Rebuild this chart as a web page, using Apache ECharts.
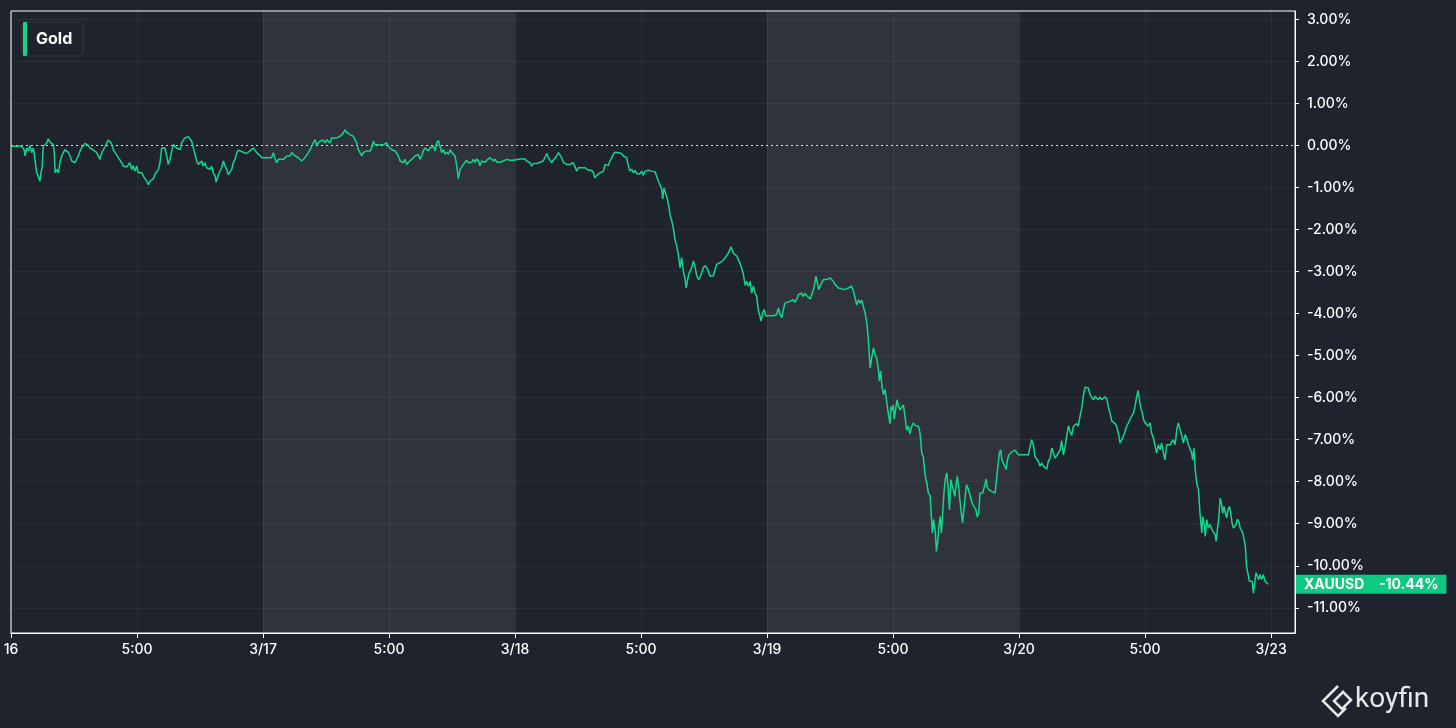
<!DOCTYPE html>
<html><head><meta charset="utf-8">
<script src="https://cdn.jsdelivr.net/npm/echarts@6/dist/echarts.min.js"></script>
<style>html,body{margin:0;padding:0;background:#1f232d;}#c{width:1456px;height:728px;}</style>
</head><body><div id="c"></div>
<script>
const seriesName = 'Gold';
const tickerName = 'XAUUSD';
const xTickLabels = ['16','5:00','3/17','5:00','3/18','5:00','3/19','5:00','3/20','5:00','3/23'];
const yTickValues = [3,2,1,0,-1,-2,-3,-4,-5,-6,-7,-8,-9,-10,-11];
const sessionBands = [[1,2],[3,4]];
// [session day index, % change]
const goldA = [[0.003,-0.02],[0.042,-0.02],[0.052,-0.10],[0.056,-0.25],[0.062,-0.06],[0.069,-0.13],[0.075,0.00],[0.082,-0.17],[0.089,-0.06],[0.095,-0.33],[0.102,-0.65],[0.108,-0.73],[0.115,-0.85],[0.119,-0.65],[0.124,-0.49],[0.128,-0.02],[0.135,-0.02],[0.142,0.06],[0.148,0.16],[0.155,0.08],[0.161,0.10],[0.168,0.02],[0.172,-0.17],[0.175,-0.65],[0.181,-0.57],[0.188,-0.65],[0.194,-0.41],[0.201,-0.25],[0.208,-0.17],[0.214,-0.10],[0.221,-0.13],[0.228,-0.17],[0.234,-0.25],[0.241,-0.37],[0.247,-0.33],[0.254,-0.41],[0.261,-0.37],[0.267,-0.25],[0.274,-0.13],[0.280,-0.06],[0.287,-0.02],[0.294,0.05],[0.300,0.05],[0.307,0.00],[0.313,-0.06],[0.327,-0.11],[0.340,-0.17],[0.353,-0.33],[0.360,-0.17],[0.373,-0.03],[0.380,0.06],[0.386,0.13],[0.393,0.10],[0.399,0.05],[0.406,-0.10],[0.413,-0.17],[0.419,-0.17],[0.426,-0.29],[0.433,-0.33],[0.439,-0.41],[0.446,-0.49],[0.452,-0.45],[0.459,-0.51],[0.466,-0.49],[0.472,-0.41],[0.479,-0.57],[0.485,-0.48],[0.492,-0.61],[0.499,-0.49],[0.505,-0.65],[0.512,-0.69],[0.519,-0.65],[0.525,-0.73],[0.532,-0.77],[0.538,-0.85],[0.545,-0.93],[0.552,-0.85],[0.558,-0.81],[0.565,-0.79],[0.571,-0.69],[0.578,-0.65],[0.585,-0.57],[0.591,-0.41],[0.598,-0.06],[0.605,-0.03],[0.611,-0.06],[0.618,-0.25],[0.624,-0.45],[0.631,-0.33],[0.638,-0.13],[0.644,0.02],[0.651,0.06],[0.657,-0.06],[0.664,-0.02],[0.671,-0.10],[0.677,0.06],[0.684,0.10],[0.690,0.18],[0.697,0.16],[0.704,0.21],[0.710,0.22],[0.717,0.10],[0.724,-0.06],[0.730,-0.21],[0.737,-0.37],[0.743,-0.45],[0.750,-0.41],[0.757,-0.37],[0.763,-0.49],[0.770,-0.41],[0.776,-0.53],[0.783,-0.49],[0.790,-0.57],[0.796,-0.49],[0.803,-0.65],[0.810,-0.73],[0.814,-0.87],[0.823,-0.69],[0.829,-0.65],[0.836,-0.53],[0.843,-0.37],[0.849,-0.49],[0.856,-0.57],[0.862,-0.69],[0.869,-0.65],[0.876,-0.57],[0.882,-0.41],[0.889,-0.33],[0.896,-0.17],[0.902,-0.11],[0.909,-0.13],[0.922,-0.16],[0.935,-0.19],[0.948,-0.13],[0.955,-0.17],[0.962,-0.06],[0.968,-0.11],[0.975,-0.17],[0.981,-0.21],[0.988,-0.24],[0.995,-0.29],[1.015,-0.29],[1.034,-0.29],[1.041,-0.17],[1.048,-0.32],[1.054,-0.41],[1.061,-0.33],[1.067,-0.37],[1.081,-0.33],[1.087,-0.29],[1.094,-0.25],[1.101,-0.21],[1.107,-0.25],[1.114,-0.17],[1.120,-0.13],[1.127,-0.25],[1.134,-0.25],[1.140,-0.29],[1.147,-0.33],[1.153,-0.37],[1.160,-0.40],[1.167,-0.29],[1.173,-0.25],[1.180,-0.17],[1.187,-0.10],[1.193,-0.02],[1.200,0.06],[1.206,0.14],[1.213,0.02],[1.220,0.06],[1.226,0.10],[1.233,0.06],[1.239,0.13],[1.246,0.06],[1.253,0.14],[1.259,0.18],[1.266,0.06],[1.272,0.18],[1.279,0.16],[1.292,0.18],[1.306,0.22],[1.319,0.30],[1.325,0.37],[1.332,0.32],[1.339,0.32],[1.345,0.26],[1.352,0.30],[1.358,0.22],[1.365,0.18],[1.372,0.06],[1.378,-0.10],[1.385,-0.17],[1.392,-0.25],[1.398,-0.17],[1.405,-0.21],[1.411,-0.13],[1.425,-0.13],[1.431,-0.06],[1.438,0.10],[1.444,0.02],[1.451,0.06],[1.458,0.02],[1.464,0.06],[1.478,0.02],[1.491,0.06],[1.497,-0.02],[1.504,-0.03],[1.511,-0.10],[1.517,-0.13],[1.524,-0.13],[1.530,-0.17],[1.537,-0.25],[1.544,-0.37],[1.550,-0.33],[1.557,-0.41],[1.563,-0.33],[1.570,-0.45],[1.577,-0.40],[1.583,-0.41],[1.590,-0.33],[1.597,-0.29],[1.603,-0.25],[1.610,-0.29],[1.616,-0.21],[1.623,-0.33],[1.630,-0.25],[1.636,-0.13],[1.643,-0.06],[1.649,-0.10],[1.656,-0.13],[1.663,-0.06],[1.669,-0.10],[1.676,-0.02],[1.683,-0.13],[1.689,0.06],[1.696,0.12]];
const goldB = [[1.702,-0.02],[1.709,-0.17],[1.716,-0.10],[1.722,-0.21],[1.729,-0.16],[1.736,-0.21],[1.743,-0.10],[1.749,-0.17],[1.756,-0.21],[1.762,-0.25],[1.769,-0.49],[1.775,-0.79],[1.782,-0.57],[1.789,-0.53],[1.795,-0.45],[1.802,-0.41],[1.808,-0.35],[1.815,-0.41],[1.822,-0.37],[1.828,-0.40],[1.835,-0.33],[1.841,-0.40],[1.848,-0.32],[1.855,-0.37],[1.861,-0.48],[1.868,-0.37],[1.874,-0.35],[1.881,-0.40],[1.888,-0.35],[1.894,-0.32],[1.901,-0.29],[1.907,-0.33],[1.914,-0.37],[1.921,-0.32],[1.927,-0.40],[1.934,-0.43],[1.940,-0.40],[1.947,-0.43],[1.954,-0.37],[1.960,-0.40],[1.967,-0.33],[1.974,-0.37],[1.980,-0.35],[1.987,-0.37],[1.993,-0.35],[2.000,-0.32],[2.020,-0.32],[2.040,-0.32],[2.046,-0.37],[2.053,-0.41],[2.060,-0.41],[2.066,-0.49],[2.073,-0.43],[2.079,-0.41],[2.086,-0.43],[2.093,-0.40],[2.099,-0.40],[2.106,-0.37],[2.112,-0.37],[2.119,-0.33],[2.126,-0.19],[2.132,-0.29],[2.139,-0.35],[2.145,-0.41],[2.152,-0.35],[2.159,-0.33],[2.165,-0.25],[2.172,-0.17],[2.179,-0.21],[2.185,-0.29],[2.192,-0.40],[2.198,-0.43],[2.205,-0.45],[2.212,-0.43],[2.218,-0.45],[2.225,-0.43],[2.231,-0.41],[2.238,-0.37],[2.245,-0.61],[2.251,-0.53],[2.258,-0.49],[2.265,-0.53],[2.271,-0.49],[2.278,-0.53],[2.284,-0.56],[2.291,-0.59],[2.298,-0.57],[2.304,-0.59],[2.311,-0.65],[2.317,-0.77],[2.324,-0.71],[2.331,-0.73],[2.337,-0.65],[2.344,-0.67],[2.351,-0.61],[2.357,-0.45],[2.364,-0.41],[2.370,-0.48],[2.377,-0.37],[2.384,-0.29],[2.390,-0.21],[2.397,-0.16],[2.403,-0.19],[2.410,-0.17],[2.417,-0.21],[2.423,-0.19],[2.430,-0.25],[2.437,-0.29],[2.443,-0.29],[2.450,-0.49],[2.456,-0.61],[2.463,-0.56],[2.470,-0.65],[2.476,-0.59],[2.483,-0.67],[2.489,-0.63],[2.496,-0.67],[2.503,-0.61],[2.509,-0.71],[2.516,-0.61],[2.522,-0.57],[2.529,-0.59],[2.536,-0.57],[2.542,-0.61],[2.549,-0.63],[2.556,-0.63],[2.562,-0.73],[2.569,-0.85],[2.575,-0.93],[2.582,-1.05],[2.586,-1.27],[2.591,-1.01],[2.595,-0.97],[2.599,-1.17],[2.605,-1.29],[2.610,-1.44],[2.615,-1.64],[2.622,-1.79],[2.629,-2.00],[2.635,-2.24],[2.642,-2.40],[2.648,-2.59],[2.655,-2.91],[2.661,-2.67],[2.668,-2.99],[2.675,-3.19],[2.679,-3.39],[2.684,-3.23],[2.689,-3.06],[2.695,-3.03],[2.701,-2.91],[2.708,-2.75],[2.714,-2.87],[2.721,-3.10],[2.728,-3.19],[2.734,-3.13],[2.741,-3.03],[2.747,-2.91],[2.754,-2.86],[2.761,-2.91],[2.767,-2.99],[2.774,-3.11],[2.780,-3.15],[2.787,-3.10],[2.794,-2.95],[2.800,-2.83],[2.807,-2.87],[2.813,-2.79],[2.820,-2.78],[2.827,-2.73],[2.833,-2.67],[2.840,-2.63],[2.847,-2.56],[2.853,-2.52],[2.857,-2.41],[2.861,-2.48],[2.866,-2.56],[2.873,-2.60],[2.880,-2.63],[2.886,-2.71],[2.893,-2.81],[2.899,-2.91],[2.906,-3.06],[2.913,-3.33],[2.919,-3.23],[2.926,-3.35],[2.933,-3.23],[2.939,-3.51],[2.946,-3.35],[2.952,-3.51],[2.959,-3.59],[2.966,-3.94],[2.972,-4.06],[2.976,-4.18],[2.983,-3.98],[2.989,-3.90],[2.994,-4.05],[3.000,-4.05],[3.026,-4.05],[3.038,-4.02],[3.045,-3.87],[3.052,-4.02],[3.058,-4.10],[3.065,-3.90],[3.071,-3.75],[3.078,-3.73],[3.091,-3.71],[3.104,-3.67],[3.111,-3.73],[3.118,-3.65],[3.124,-3.55],[3.131,-3.59],[3.138,-3.51],[3.144,-3.59],[3.151,-3.52],[3.157,-3.57],[3.164,-3.55],[3.171,-3.65],[3.177,-3.63],[3.184,-3.43],[3.190,-3.27],[3.194,-3.11],[3.200,-3.27],[3.205,-3.43],[3.210,-3.35],[3.217,-3.27],[3.224,-3.19],[3.230,-3.23],[3.237,-3.19],[3.243,-3.17],[3.250,-3.15],[3.257,-3.11],[3.263,-3.23],[3.270,-3.31],[3.276,-3.35],[3.283,-3.39],[3.290,-3.35],[3.296,-3.41],[3.303,-3.41],[3.310,-3.43],[3.316,-3.43],[3.323,-3.39],[3.329,-3.43],[3.336,-3.35],[3.343,-3.47],[3.349,-3.51],[3.356,-3.79],[3.363,-3.67]];
const goldC = [[3.369,-3.75],[3.376,-3.68],[3.382,-3.83],[3.389,-3.98],[3.396,-4.22],[3.402,-4.62],[3.409,-5.29],[3.415,-5.06],[3.422,-4.82],[3.429,-4.98],[3.435,-5.06],[3.442,-5.33],[3.446,-5.61],[3.451,-5.37],[3.456,-5.73],[3.462,-5.93],[3.468,-5.81],[3.475,-6.09],[3.481,-6.37],[3.488,-6.62],[3.492,-6.21],[3.498,-6.30],[3.501,-6.17],[3.505,-6.51],[3.511,-6.25],[3.516,-6.05],[3.521,-6.19],[3.528,-6.29],[3.534,-6.25],[3.541,-6.17],[3.548,-6.47],[3.554,-6.78],[3.561,-6.68],[3.567,-6.86],[3.574,-6.68],[3.581,-6.60],[3.587,-6.66],[3.594,-6.67],[3.601,-6.68],[3.607,-6.84],[3.614,-7.32],[3.620,-7.40],[3.627,-7.83],[3.634,-8.03],[3.640,-8.27],[3.647,-8.33],[3.651,-8.75],[3.656,-9.22],[3.661,-8.90],[3.664,-8.94],[3.668,-9.22],[3.672,-9.66],[3.678,-9.38],[3.682,-9.06],[3.687,-8.83],[3.692,-9.22],[3.697,-9.22],[3.702,-8.27],[3.707,-7.95],[3.713,-7.79],[3.718,-8.11],[3.724,-8.67],[3.729,-7.95],[3.734,-7.99],[3.739,-8.19],[3.745,-8.35],[3.750,-8.07],[3.755,-7.87],[3.761,-8.15],[3.765,-8.43],[3.771,-8.75],[3.776,-8.98],[3.781,-8.67],[3.787,-8.31],[3.792,-8.07],[3.797,-8.15],[3.803,-8.27],[3.808,-8.23],[3.813,-8.49],[3.818,-8.55],[3.824,-8.59],[3.829,-8.67],[3.834,-8.84],[3.840,-8.75],[3.845,-8.27],[3.850,-8.31],[3.856,-8.27],[3.861,-8.23],[3.866,-8.03],[3.869,-7.94],[3.874,-8.13],[3.880,-8.19],[3.885,-8.21],[3.891,-8.23],[3.898,-8.25],[3.905,-8.27],[3.910,-8.27],[3.916,-7.64],[3.922,-7.32],[3.927,-7.24],[3.932,-7.48],[3.938,-7.56],[3.943,-7.52],[3.949,-7.71],[3.954,-7.48],[3.959,-7.37],[3.964,-7.33],[3.971,-7.29],[3.978,-7.32],[3.984,-7.25],[3.991,-7.28],[3.997,-7.36],[4.017,-7.36],[4.037,-7.36],[4.044,-7.16],[4.050,-7.00],[4.057,-7.12],[4.063,-7.40],[4.070,-7.40],[4.077,-7.52],[4.083,-7.63],[4.090,-7.56],[4.097,-7.63],[4.103,-7.60],[4.110,-7.70],[4.116,-7.52],[4.123,-7.44],[4.130,-7.20],[4.136,-7.16],[4.143,-7.44],[4.150,-7.40],[4.156,-7.32],[4.163,-7.24],[4.169,-7.02],[4.176,-7.36],[4.183,-7.16],[4.189,-6.92],[4.196,-6.67],[4.202,-6.80],[4.209,-6.90],[4.216,-6.68],[4.222,-6.72],[4.229,-6.62],[4.235,-6.68],[4.242,-6.44],[4.249,-6.24],[4.255,-5.97],[4.262,-5.75],[4.268,-5.73],[4.275,-5.77],[4.282,-5.93],[4.288,-5.93],[4.295,-6.05],[4.302,-5.97],[4.308,-5.93],[4.315,-6.05],[4.321,-5.98],[4.328,-6.05],[4.335,-6.09],[4.341,-5.98],[4.348,-6.03],[4.354,-6.21],[4.361,-6.37],[4.368,-6.56],[4.374,-6.60],[4.381,-6.62],[4.387,-6.68],[4.394,-6.84],[4.401,-7.08],[4.407,-7.04],[4.414,-6.92],[4.421,-6.80],[4.427,-6.68],[4.434,-6.60],[4.440,-6.52],[4.447,-6.44],[4.454,-6.37],[4.460,-6.21],[4.467,-5.97],[4.472,-5.83],[4.478,-6.05],[4.483,-6.25],[4.488,-6.33],[4.494,-6.52],[4.500,-6.60],[4.507,-6.56],[4.513,-6.68],[4.520,-6.60],[4.526,-6.84],[4.533,-6.96],[4.540,-7.16],[4.546,-7.32],[4.553,-7.12],[4.560,-7.24],[4.566,-7.08],[4.573,-7.32],[4.579,-7.48],[4.586,-7.12],[4.593,-7.08],[4.599,-7.12],[4.606,-7.08],[4.612,-7.00],[4.619,-7.12],[4.626,-6.76],[4.632,-6.60],[4.639,-6.76],[4.646,-6.92],[4.652,-7.08],[4.659,-6.88],[4.665,-6.96],[4.672,-7.12],[4.679,-7.16],[4.685,-7.32],[4.689,-7.48],[4.694,-7.20],[4.699,-7.71],[4.705,-8.03],[4.712,-8.19],[4.718,-8.75],[4.725,-9.22],[4.729,-8.83],[4.734,-8.98],[4.739,-9.30],[4.745,-8.90],[4.751,-9.10],[4.758,-9.02],[4.765,-9.14],[4.771,-9.10],[4.778,-9.26],[4.782,-9.42],[4.787,-9.14],[4.792,-8.90],[4.798,-8.39],[4.803,-8.51],[4.808,-8.75],[4.813,-8.59],[4.819,-8.75],[4.824,-8.86],[4.829,-8.67],[4.835,-8.59],[4.840,-8.75],[4.845,-8.98],[4.851,-9.10],[4.856,-9.06],[4.861,-9.02],[4.866,-8.89],[4.872,-8.94],[4.877,-9.10],[4.882,-9.06],[4.888,-9.22],[4.893,-9.38],[4.898,-9.54],[4.903,-10.02],[4.909,-10.21],[4.914,-10.37],[4.919,-10.41],[4.925,-10.37],[4.930,-10.65],[4.935,-10.41],[4.940,-10.17],[4.946,-10.13],[4.951,-10.33],[4.956,-10.21],[4.962,-10.33],[4.969,-10.21],[4.976,-10.37],[4.981,-10.33],[4.988,-10.44]];

const gold = goldA.concat(goldB, goldC);
const lastValue = gold[gold.length - 1][1];
const GREEN = '#14d68b';
const FONT = 'Inter, "Noto Sans", sans-serif';

const chart = echarts.init(document.getElementById('c'), null, {renderer: 'canvas'});

const gridLines = yTickValues.filter(v => v !== 0).map(v => ({
  yAxis: v, lineStyle: {color: 'rgba(255,255,255,0.055)', type: 'solid', width: 1}, label: {show: false}
}));

chart.setOption({
  backgroundColor: '#1f232d',
  animation: false,
  textStyle: {fontFamily: FONT},
  grid: {left: 11, right: 161, top: 11, bottom: 95, show: true, borderColor: '#ffffff', borderWidth: 1, backgroundColor: 'transparent'},
  legend: {
    left: 22, top: 22, selectedMode: false,
    data: [{name: seriesName, icon: 'roundRect'}],
    itemWidth: 4, itemHeight: 34,
    backgroundColor: '#1f232d', borderColor: '#363a45', borderWidth: 1, borderRadius: 5,
    padding: [0, 11, 0, 1],
    textStyle: {color: '#ffffff', fontSize: 16, fontWeight: 'bold', fontFamily: FONT, padding: [0, 0, 0, 4]}
  },
  xAxis: {
    type: 'value', min: 0, max: 5.095, interval: 0.5,
    axisLine: {show: true, onZero: false, lineStyle: {color: '#ffffff', width: 1}},
    axisTick: {show: true, length: 5, lineStyle: {color: '#ffffff'}},
    axisLabel: {color: '#ffffff', fontSize: 14, fontWeight: 500, fontFamily: FONT, margin: 10, showMinLabel: true, showMaxLabel: false,
      formatter: v => xTickLabels[Math.round(v / 0.5)] || ''},
    splitLine: {show: true, lineStyle: {color: 'rgba(255,255,255,0.055)'}}
  },
  yAxis: {
    type: 'value', position: 'right', min: -11.6, max: 3.2,
    axisLine: {show: true, onZero: false, lineStyle: {color: '#ffffff', width: 1}},
    axisTick: {show: true, length: 4, customValues: yTickValues, lineStyle: {color: '#ffffff'}},
    axisLabel: {customValues: yTickValues, color: '#ffffff', fontSize: 14, fontWeight: 500, fontFamily: FONT, margin: 12,
      formatter: v => v.toFixed(2) + '%'},
    splitLine: {show: false}
  },
  series: [{
    type: 'line', name: seriesName, data: gold,
    showSymbol: false, symbol: 'none', clip: false,
    lineStyle: {color: GREEN, width: 1.5},
    itemStyle: {color: GREEN},
    z: 5,
    markArea: {
      silent: true,
      itemStyle: {color: 'rgba(255,255,255,0.075)'},
      data: sessionBands.map(b => [{xAxis: b[0]}, {xAxis: b[1]}])
    },
    markLine: {
      silent: true, symbol: 'none', animation: false,
      data: gridLines.concat([
        {yAxis: 0, lineStyle: {color: 'rgba(255,255,255,0.85)', type: [2, 3], width: 1}, label: {show: false}},
        {yAxis: lastValue, lineStyle: {color: 'rgba(0,0,0,0)', width: 0}, label: {
          show: true, position: 'end', distance: 1,
          formatter: '{n|' + tickerName + '}{v|' + lastValue.toFixed(2) + '%}',
          backgroundColor: '#0fc882', padding: [3, 8, 2, 8],
          rich: {
            n: {width: 75, color: '#ffffff', fontWeight: 'bold', fontSize: 14, fontFamily: FONT},
            v: {color: '#ffffff', fontWeight: 'bold', fontSize: 14, fontFamily: FONT}
          }
        }}
      ])
    }
  }],
  graphic: [
    {type: 'polyline', shape: {points: [[1338,686],[1323,701],[1338,716],[1346,708]]}, style: {stroke: '#e8e8e8', lineWidth: 2.5, fill: null}},
    {type: 'polyline', shape: {points: [[1344,691],[1334,701],[1342,709],[1351,700],[1344,693]]}, style: {stroke: '#e8e8e8', lineWidth: 2.5, fill: null}},
    {type: 'text', x: 1355, y: 700, style: {text: 'koyfin', fill: '#e8e8e8', font: '400 28px Roboto, sans-serif', verticalAlign: 'middle', align: 'left'}}
  ]
});
</script>
</body></html>
